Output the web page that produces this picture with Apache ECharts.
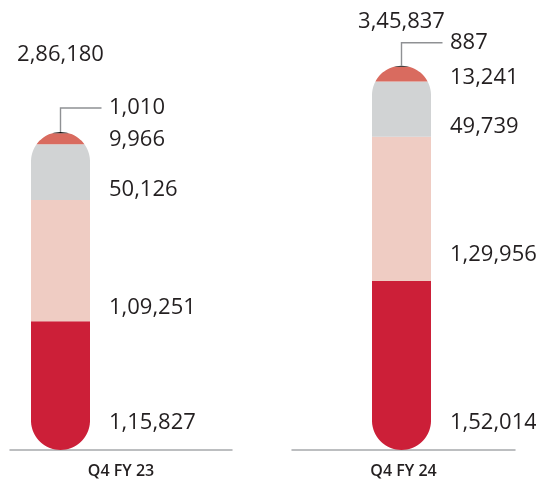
<!DOCTYPE html>
<html><head><meta charset="utf-8">
<script src="https://cdn.jsdelivr.net/npm/echarts@6/dist/echarts.min.js"></script>
<style>html,body{margin:0;padding:0;background:#fff}#c{width:536px;height:480px}</style>
</head><body><div id="c"></div>
<script>
// ---- data ----
const categories = ['Q4 FY 23', 'Q4 FY 24'];
const bottomRed = [115827, 152014];
const lightPink = [109251, 129956];
const grey      = [50126, 49739];
const capRed    = [9966, 13241];
const topBlack  = [1010, 887];
const totals    = [286180, 345837];

// ---- styles / layout ----
const segColors = ['#CC1F38', '#EFCCC3', '#D1D3D4', '#D96B5F', '#111111'];
const barWidth = 59;
const barShift = [-60.5, -2];               // bar centre offset from category centre (px)
const labelNudge = [[27, 14, 10, 4], [27, 26, 10, 4]]; // label y above segment bottom (px)
const totalNudge = [77, 44];
const leader = { up: [24, 23], across: 41 };
const textColor = '#231F20';
const font = '22px "Open Sans"';

function fmtIN(n) {
  const s = String(Math.round(n));
  if (s.length <= 3) return s;
  const last3 = s.slice(-3);
  let rest = s.slice(0, -3);
  const parts = [];
  while (rest.length > 2) { parts.unshift(rest.slice(-2)); rest = rest.slice(0, -2); }
  if (rest) parts.unshift(rest);
  return parts.join(',') + ',' + last3;
}

function makeRender(gi) {
  return function (params, api) {
    const cat = api.value(0);
    const vals = [api.value(1), api.value(2), api.value(3), api.value(4), api.value(5)];
    const total = api.value(6);
    const base = api.coord([cat, 0]);
    const cx = base[0] + barShift[gi];
    const y0 = base[1];
    let sum = 0;
    const bounds = [];
    for (let i = 0; i < vals.length; i++) {
      const yb = api.coord([cat, sum])[1];
      sum += vals[i];
      const yt = api.coord([cat, sum])[1];
      bounds.push([yb, yt]);
    }
    const yT = bounds[bounds.length - 1][1];
    const r = barWidth / 2;
    function hw(y) {
      if (y > y0 - r) { const d = y - (y0 - r); return Math.sqrt(Math.max(0, r * r - d * d)); }
      if (y < yT + r) { const d = (yT + r) - y; return Math.sqrt(Math.max(0, r * r - d * d)); }
      return r;
    }
    const children = [];
    bounds.forEach(([yb, yt], i) => {
      const pts = [];
      const n = Math.max(2, Math.ceil((yb - yt) / 0.5));
      for (let k = 0; k <= n; k++) { const y = yb - (yb - yt) * k / n; pts.push([cx + hw(y), y]); }
      for (let k = n; k >= 0; k--) { const y = yb - (yb - yt) * k / n; pts.push([cx - hw(y), y]); }
      children.push({ type: 'polygon', shape: { points: pts }, style: { fill: segColors[i] } });
    });
    const lx = cx + r + 19;
    for (let i = 0; i < 4; i++) {
      children.push({ type: 'text', style: { text: fmtIN(vals[i]), x: lx, y: bounds[i][0] - labelNudge[gi][i],
        font: font, fill: textColor, align: 'left', verticalAlign: 'middle' } });
    }
    const ly = yT - leader.up[gi];
    children.push({ type: 'polyline', shape: { points: [[cx, yT], [cx, ly], [cx + leader.across, ly]] },
      style: { stroke: '#8F9194', lineWidth: 1.4, fill: null } });
    children.push({ type: 'text', style: { text: fmtIN(vals[4]), x: lx, y: ly,
      font: font, fill: textColor, align: 'left', verticalAlign: 'middle' } });
    children.push({ type: 'text', style: { text: fmtIN(total), x: cx, y: yT - totalNudge[gi],
      font: font, fill: textColor, align: 'center', verticalAlign: 'middle' } });
    return { type: 'group', children };
  };
}

const grids = [{ left: 10, width: 222, top: 0, height: 450 }, { left: 292, width: 223, top: 0, height: 450 }];
const chart = echarts.init(document.getElementById('c'));
chart.setOption({
  animation: false,
  grid: grids,
  xAxis: categories.map((c, i) => ({
    type: 'category', gridIndex: i, data: [c],
    axisLine: { lineStyle: { color: '#A7A9AC', width: 1.5 } },
    axisTick: { show: false },
    axisLabel: { color: textColor, fontSize: 16, fontWeight: 600, fontFamily: '"Open Sans"', margin: 13 }
  })),
  yAxis: categories.map((c, i) => ({ type: 'value', gridIndex: i, min: 0, max: 405000, show: false })),
  series: categories.map((c, i) => ({
    type: 'custom', xAxisIndex: i, yAxisIndex: i, clip: false,
    renderItem: makeRender(i),
    data: [[0, bottomRed[i], lightPink[i], grey[i], capRed[i], topBlack[i], totals[i]]]
  }))
});
</script></body></html>
